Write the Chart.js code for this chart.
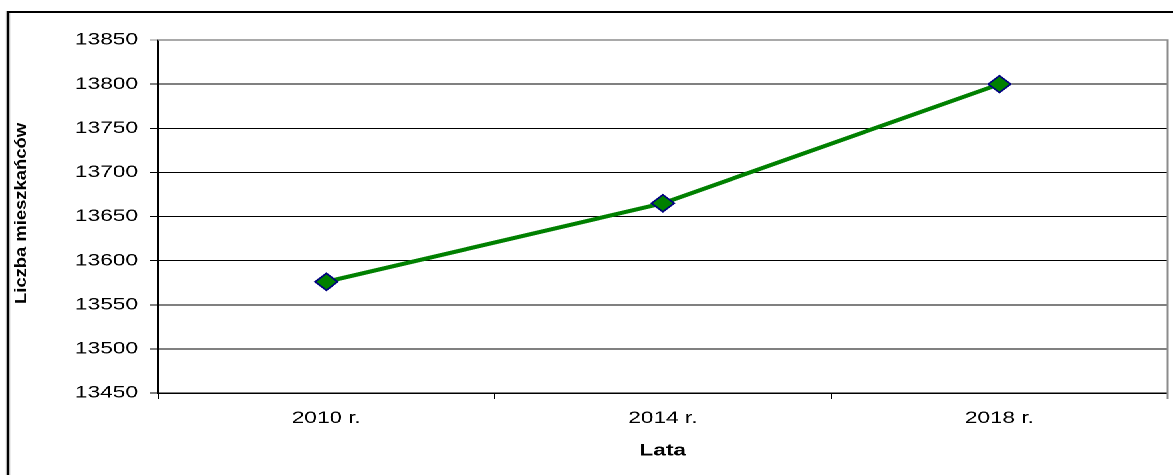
<!DOCTYPE html>
<html>
<head>
<meta charset="utf-8">
<script src="https://cdn.jsdelivr.net/npm/chart.js@4.4.1/dist/chart.umd.min.js"></script>
<style>
  html, body { margin: 0; padding: 0; background: #fff; overflow: hidden; }
  /* the reference image is stretched horizontally, so draw narrow and stretch */
  #wrap {
    position: absolute; left: 0; top: 0;
    width: 888px; height: 475px;
    transform: scaleX(1.33); transform-origin: 0 0;
  }
  #frame {
    position: absolute; left: 5px; top: 11px;
    width: 1000px; height: 1000px;
    border: 2px solid #000;
  }
  #chart { position: absolute; left: 0; top: 0; }
</style>
</head>
<body>
<div id="wrap">
  <div id="frame"></div>
  <canvas id="chart"></canvas>
</div>
<script>
const years = ['2010 r.', '2014 r.', '2018 r.'];
const residents = [13576, 13665, 13800];
const yMin = 13450;
const yMax = 13850;
const yStep = 50;
const yTitle = 'Liczba mieszkańców';
const xTitle = 'Lata';

const FONT = "'Liberation Sans', Arial, sans-serif";

// gray border on top and right of the plot area + rotated y title
const plotExtras = {
  id: 'plotExtras',
  afterDraw(chart) {
    const {ctx, chartArea: a} = chart;
    ctx.save();
    ctx.strokeStyle = '#8c8c8c';
    ctx.lineWidth = 1.5;
    ctx.beginPath();
    ctx.moveTo(a.left, a.top);
    ctx.lineTo(a.right, a.top);
    ctx.lineTo(a.right, a.bottom + 6);
    ctx.stroke();

    ctx.translate(16.5, (a.top + a.bottom) / 2 - 3);
    ctx.rotate(-Math.PI / 2);
    ctx.scale(1.6, 1);
    ctx.fillStyle = '#000';
    ctx.font = 'bold 11.5px ' + FONT;
    ctx.textAlign = 'center';
    ctx.textBaseline = 'middle';
    ctx.fillText(yTitle, 0, 0);
    ctx.restore();
  }
};

new Chart(document.getElementById('chart'), {
  type: 'line',
  data: {
    labels: years,
    datasets: [{
      data: residents,
      borderColor: '#008000',
      borderWidth: 4,
      backgroundColor: '#008000',
      pointStyle: 'rectRot',
      pointRadius: 8.5,
      pointBorderColor: '#000080',
      pointBorderWidth: 1.5,
      pointBackgroundColor: '#008000',
      tension: 0
    }]
  },
  options: {
    responsive: true,
    maintainAspectRatio: false,
    animation: false,
    devicePixelRatio: 2,
    layout: { padding: { left: 0, right: 3.8, top: 40, bottom: 0 } },
    plugins: {
      legend: { display: false },
      tooltip: { enabled: false }
    },
    scales: {
      x: {
        offset: true,
        grid: {
          offset: true,
          drawOnChartArea: false,
          drawTicks: true,
          tickLength: 6,
          color: '#000'
        },
        border: { color: '#000', width: 1.5 },
        ticks: {
          color: '#000',
          padding: 9,
          maxRotation: 0,
          font: { family: FONT, size: 17 }
        },
        title: {
          display: true,
          text: xTitle,
          color: '#000',
          padding: { top: 0, bottom: 14 },
          font: { family: FONT, size: 17, weight: 'bold' }
        },
        afterFit(scale) { scale.height = 82; }
      },
      y: {
        min: yMin,
        max: yMax,
        grid: {
          color: ctx => ctx.tick && ctx.tick.value === yMax ? '#8c8c8c' : '#000',
          lineWidth: 1,
          tickLength: 6
        },
        border: { color: '#000', width: 1.5 },
        ticks: {
          stepSize: yStep,
          color: '#000',
          padding: 9,
          font: { family: FONT, size: 17 },
          callback: v => String(v)
        },
        afterFit(scale) { scale.width = 118.8; }
      }
    }
  },
  plugins: [plotExtras]
});
</script>
</body>
</html>
